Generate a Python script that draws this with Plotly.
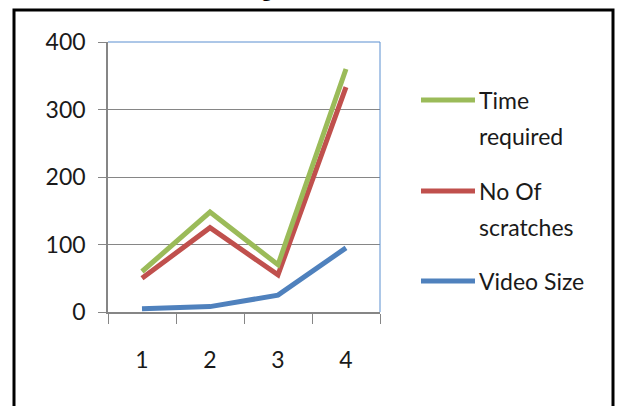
import plotly.graph_objects as go

categories = ["1", "2", "3", "4"]
time_required = [60, 148, 70, 360]
no_of_scratches = [50, 125, 55, 333]
video_size = [5, 8, 25, 95]
y_ticks = [0, 100, 200, 300, 400]

series = [
    ("Video Size", video_size, "#4F81BD"),
    ("No Of scratches", no_of_scratches, "#C0504D"),
    ("Time required", time_required, "#9BBB59"),
]

FONT = "Lato"
TXT = "#1a1a1a"

fig = go.Figure()
for name, vals, col in series:
    fig.add_trace(go.Scatter(x=categories, y=vals, mode="lines", name=name,
                             line=dict(color=col, width=5), showlegend=False))

# plot area in pixels: x 108..380, y 42..312
L, R, T, B = 108, 380, 42, 312
W, H = R - L, B - T
def px(x):
    return (x - L) / W
def py(y):
    return (B - y) / H

shapes = []
# plot area top/right border (blue)
shapes.append(dict(type="line", xref="paper", yref="paper", x0=0, x1=1, y0=1, y1=1,
                   line=dict(color="#5B8FD0", width=1), layer="above"))
shapes.append(dict(type="line", xref="paper", yref="paper", x0=1, x1=1, y0=0, y1=1,
                   line=dict(color="#5B8FD0", width=1), layer="above"))
# outer black frame
shapes.append(dict(type="rect", xref="paper", yref="paper", x0=px(14), x1=px(613),
                   y0=py(440), y1=py(10), line=dict(color="black", width=3)))

annotations = []
legend_items = [
    ("Time required", ["Time", "required"], "#9BBB59", 100),
    ("No Of scratches", ["No Of", "scratches"], "#C0504D", 191),
    ("Video Size", ["Video Size"], "#4F81BD", 281),
]
for _, lines, col, yy in legend_items:
    shapes.append(dict(type="line", xref="paper", yref="paper", x0=px(421), x1=px(475),
                       y0=py(yy), y1=py(yy), line=dict(color=col, width=5)))
    for i, t in enumerate(lines):
        annotations.append(dict(xref="paper", yref="paper", x=px(477), y=py(yy + 36 * i),
                                text=t, showarrow=False, xanchor="left", yanchor="middle",
                                font=dict(family=FONT, size=23, color=TXT)))

annotations.append(dict(xref="paper", yref="paper", x=px(313), y=py(3),
                        text="<b>Figure 4: Result</b>", showarrow=False,
                        xanchor="center", yanchor="bottom",
                        font=dict(family="Liberation Serif", size=20, color="black")))

fig.update_layout(
    width=620, height=406,
    margin=dict(l=L, r=620 - R, t=T, b=406 - B, pad=0),
    paper_bgcolor="white", plot_bgcolor="white",
    shapes=shapes, annotations=annotations,
    font=dict(family=FONT, size=23, color=TXT),
    xaxis=dict(type="category", categoryorder="array", categoryarray=categories,
               range=[-0.5, len(categories) - 0.5],
               tickson="boundaries", ticks="outside", ticklen=10, tickcolor="#868686",
               showline=True, linecolor="#868686", linewidth=1.5, showgrid=False,
               tickfont=dict(family=FONT, size=23, color=TXT), ticklabelstandoff=27),
    yaxis=dict(range=[0, 400], tickvals=y_ticks, ticks="outside", ticklen=8,
               tickcolor="#868686", showline=True, linecolor="#868686", linewidth=1.5,
               showgrid=True, gridcolor="#868686", gridwidth=1, zeroline=False,
               tickfont=dict(family=FONT, size=23, color=TXT), ticklabelstandoff=8),
)

fig.write_html("out.html")
